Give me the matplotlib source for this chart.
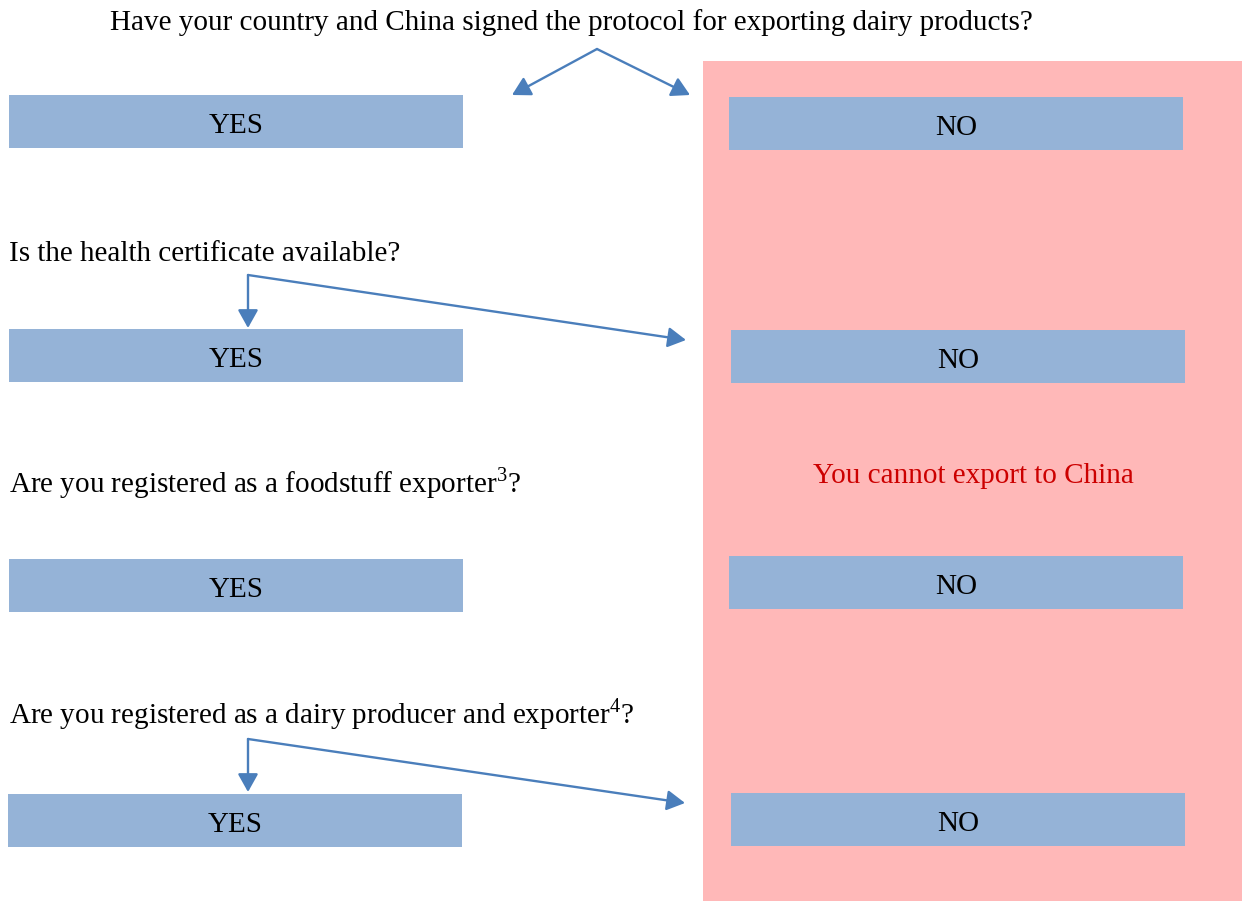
import matplotlib
matplotlib.use("Agg")
from matplotlib import pyplot as plt
from matplotlib.patches import Rectangle

plt.rcParams['font.family'] = ['Liberation Serif', 'DejaVu Serif']
plt.rcParams['mathtext.fontset'] = 'custom'
plt.rcParams['mathtext.rm'] = 'Liberation Serif'

# chart content
title = "Have your country and China signed the protocol for exporting dairy products?"
questions = ["Is the health certificate available?",
             r"Are you registered as a foodstuff exporter$^\mathrm{3}$?",
             r"Are you registered as a dairy producer and exporter$^\mathrm{4}$?"]
yes_labels = ["YES", "YES", "YES", "YES"]
no_labels = ["NO", "NO", "NO", "NO"]
verdict = "You cannot export to China"

# layout (pixels, origin top-left)
yes_boxes = [(9, 95), (9, 329), (9, 559), (8, 794)]
no_boxes = [(729, 97), (731, 330), (729, 556), (731, 793)]
box_w, box_h = 454, 53
question_y = [261, 492, 723]   # baselines
box_col = '#95B3D7'
arrow_col = '#4A7EBB'
fs = 21

fig = plt.figure(figsize=(12.42, 9.01), dpi=100)
ax = fig.add_axes([0, 0, 1, 1])
ax.set_xlim(0, 1242)
ax.set_ylim(901, 0)
ax.axis('off')

ax.add_patch(Rectangle((703, 61), 539, 840, color='#FFB8B8', lw=0))

for (x, y), lab in zip(yes_boxes + no_boxes, yes_labels + no_labels):
    ax.add_patch(Rectangle((x, y), box_w, box_h, color=box_col, lw=0))
    ax.text(x + box_w / 2, y + 38, lab, ha='center', va='baseline', fontsize=fs)

ax.text(110, 30, title, ha='left', va='baseline', fontsize=fs)
for q, y in zip(questions, question_y):
    ax.text(9, y, q, ha='left', va='baseline', fontsize=fs)
ax.text(973, 483, verdict, ha='center', va='baseline', fontsize=fs, color='#CC0000')

def arrow(x0, y0, x1, y1):
    ax.annotate('', xy=(x1, y1), xytext=(x0, y0),
                arrowprops=dict(arrowstyle='-|>,head_length=0.5,head_width=0.28',
                                color=arrow_col, lw=1.7,
                                mutation_scale=22, shrinkA=0, shrinkB=0))

arrow(597, 49, 512, 95)
arrow(597, 49, 690, 95)
arrow(248, 275, 248, 328)
arrow(248, 275, 686, 340)
arrow(248, 739, 248, 792)
arrow(248, 739, 685, 803)

fig.savefig('out.png', dpi=100)
